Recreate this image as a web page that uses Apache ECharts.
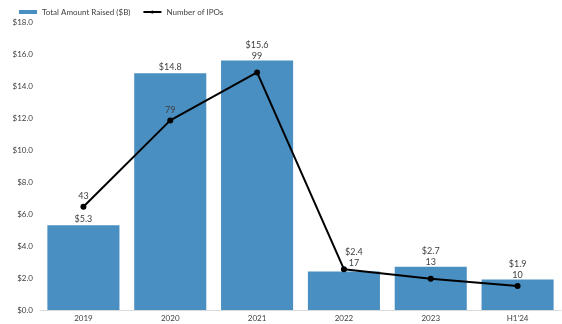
<!DOCTYPE html>
<html><head><meta charset="utf-8">
<script src="https://cdn.jsdelivr.net/npm/echarts@6/dist/echarts.min.js"></script>
<style>html,body{margin:0;padding:0;background:#fff}#c{width:562px;height:324px}</style>
</head><body><div id="c"></div>
<script>
var categories = ['2019', '2020', '2021', '2022', '2023', "H1'24"];
var amountRaised = [5.3, 14.8, 15.6, 2.4, 2.7, 1.9];
var ipoCount = [43, 79, 99, 17, 13, 10];
var yTicks = [0, 2, 4, 6, 8, 10, 12, 14, 16, 18];

var FONT = 'Lato';
var TXT = '#404040';
var leftMax = 18, rightMax = 120;

// IPO label stacks with the bar label when the point is near the bar top
var scaled = ipoCount.map(function (v) { return v * leftMax / rightMax; });
var stacked = amountRaised.map(function (v, i) { return Math.abs(scaled[i] - v) < 1; });
var onLine = amountRaised.map(function (v, i) { return stacked[i] && scaled[i] > v; });

function both(i) { return '$' + amountRaised[i].toFixed(1) + '\n' + ipoCount[i]; }

var barData = amountRaised.map(function (v, i) {
  var lbl;
  if (onLine[i]) lbl = { show: false };
  else if (stacked[i]) lbl = { formatter: both(i), distance: -1, lineHeight: 11 };
  else lbl = { formatter: '$' + v.toFixed(1), distance: 2 };
  return { value: v, label: lbl };
});
var lineData = ipoCount.map(function (v, i) {
  var lbl;
  if (onLine[i]) lbl = { show: true, formatter: both(i), distance: -2, lineHeight: 11, offset: [10, 0] };
  else lbl = { show: !stacked[i] };
  return { value: v, label: lbl };
});

var chart = echarts.init(document.getElementById('c'));
chart.setOption({
  animation: false,
  textStyle: { fontFamily: FONT },
  legend: {
    left: 14, top: 3, itemGap: 12,
    textStyle: { fontFamily: FONT, fontSize: 8, color: TXT },
    data: [
      { name: 'Total Amount Raised ($B)', icon: 'rect' },
      { name: 'Number of IPOs' }
    ],
    itemWidth: 18, itemHeight: 4
  },
  grid: { left: 40, right: 1, top: 22, bottom: 14, containLabel: false },
  xAxis: {
    type: 'category', data: categories,
    axisLine: { lineStyle: { color: '#d9d9d9' } },
    axisTick: { show: false },
    axisLabel: { fontFamily: FONT, fontSize: 8, color: TXT, margin: 4 }
  },
  yAxis: [
    {
      type: 'value', min: 0, max: leftMax, interval: 2,
      axisLine: { show: false }, axisTick: { show: false }, splitLine: { show: false },
      axisLabel: {
        fontFamily: FONT, fontSize: 8, color: TXT, margin: 7,
        formatter: function (v) { return yTicks.indexOf(v) >= 0 ? '$' + v.toFixed(1) : ''; }
      }
    },
    { type: 'value', min: 0, max: rightMax, show: false, splitLine: { show: false } }
  ],
  series: [
    {
      name: 'Total Amount Raised ($B)', type: 'bar', data: barData,
      barCategoryGap: '17%',
      itemStyle: { color: '#4a8fc1' },
      label: { show: true, position: 'top', fontFamily: FONT, fontSize: 9, color: TXT }
    },
    {
      name: 'Number of IPOs', type: 'line', yAxisIndex: 1, data: lineData,
      symbol: 'circle', symbolSize: 6,
      lineStyle: { color: '#000', width: 2 },
      itemStyle: { color: '#000' },
      label: { show: true, position: 'top', distance: 3, fontFamily: FONT, fontSize: 9, color: TXT }
    }
  ]
});
</script></body></html>
